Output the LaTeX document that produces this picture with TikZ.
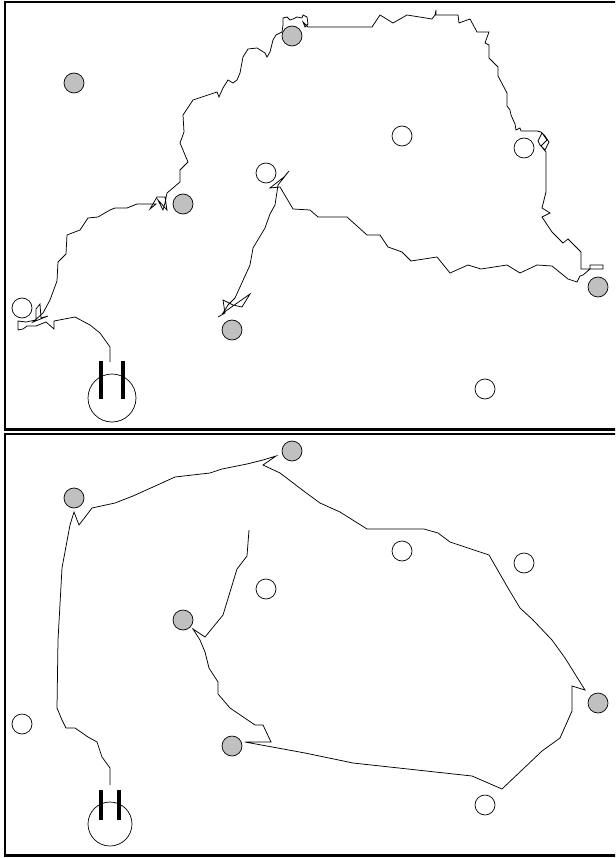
\documentclass[tikz,border=0pt]{standalone}
\begin{document}
\begin{tikzpicture}[x=1pt,y=-1pt,
  gcirc/.style={circle,draw=black,line width=0.7pt,fill={rgb,255:red,192;green,192;blue,192},minimum size=20pt,inner sep=0pt},
  wcirc/.style={circle,draw=black,line width=0.7pt,fill=white,minimum size=20pt,inner sep=0pt},
  frame/.style={draw=black,line width=2.3pt},
  traj/.style={draw=black,line width=0.75pt,line join=miter},
  bar/.style={fill=black}]
\clip (0,0) rectangle (615,858);
\fill[white] (0,0) rectangle (615,858);
% frames
\draw[frame] (5,1.8) rectangle (630,429.5);
\draw[frame] (5,434.2) rectangle (630,855.5);

% ---------------- top panel ----------------
\node[gcirc] (tg1) at (74,83) {};
\node[gcirc] (tg2) at (292,36) {};
\node[wcirc] (tw1) at (402,136) {};
\node[wcirc] (tw2) at (524,148) {};
\node[wcirc] (tw3) at (266,173) {};
\node[gcirc] (tg3) at (183,204) {};
\node[wcirc] (tw4) at (22,308) {};
\node[gcirc] (tg4) at (232,330) {};
\node[gcirc] (tg5) at (598,287) {};
\node[wcirc] (tw5) at (485,389) {};
\node[circle,draw=black,line width=0.7pt,minimum size=48pt,inner sep=0pt] (th) at (112,398) {};
\fill[bar] (99,361) rectangle (103.3,399);
\fill[bar] (120.7,361) rectangle (125,399);
\coordinate (tstart) at (110,362);

\draw[traj] (tstart) -- (110,347) -- (100,333) -- (90,325) -- (75,317) -- (54,321) -- (54,329)
 -- (46,322) -- (36,326) -- (27,326) -- (23,329) -- (18,330) -- (18,321) -- (26,322) -- (36,320)
 -- (36,309) -- (40,304) -- (41,318) -- (48,316) -- (33,322) -- (43,313) -- (50,300) -- (57,281)
 -- (58,262) -- (66,254) -- (67,235) -- (80,230) -- (88,218) -- (98,217) -- (110,210) -- (115,208)
 -- (127,208) -- (137,204) -- (150,204) -- (156,204) -- (150,209) -- (157,197) -- (165,197)
 -- (167,210) -- (158,200) -- (163,210) -- (165,203) -- (167,193) -- (180,182) -- (180,170)
 -- (188,162) -- (180,143) -- (184,132) -- (183,115) -- (193,100) -- (217,92) -- (219,97)
 -- (223,88) -- (228,80) -- (233,83) -- (237,80) -- (240,73) -- (243,57) -- (248,49) -- (257,48)
 -- (265,53) -- (267,57) -- (270,52) -- (273,40) -- (276,35) -- (282,32) -- (283,25) -- (283,18)
 -- (287,17) -- (290,20) -- (293,19) -- (297,17) -- (302,18) -- (303,15) -- (307,17) -- (308,24)
 -- (305,27) -- (303,22) -- (308,27) -- (372,27) -- (380,15) -- (393,23) -- (407,15) -- (432,19)
 -- (435,15) -- (436,10) -- (436,15) -- (458,15) -- (459,23) -- (470,19) -- (477,32) -- (489,32)
 -- (485,43) -- (489,45) -- (489,58) -- (498,67) -- (498,76) -- (507,93) -- (507,106) -- (510,110)
 -- (511,115) -- (515,124) -- (516,130) -- (520,128) -- (521,131) -- (537,131) -- (541,132)
 -- (545,136) -- (549,142) -- (545,150) -- (540,145) -- (538,141) -- (542,133) -- (547,140)
 -- (541,146) -- (546,152) -- (546,192) -- (542,208) -- (550,213) -- (542,217) -- (552,232)
 -- (563,243) -- (568,239) -- (581,252) -- (581,269) -- (590,269) -- (590,265) -- (603,265)
 -- (603,269) -- (590,269) -- (583,275) -- (580,276) -- (577,282) -- (568,279) -- (552,266)
 -- (537,265) -- (520,273) -- (507,265) -- (481,269) -- (468,265) -- (450,273) -- (437,257)
 -- (411,261) -- (402,252) -- (388,247) -- (380,235) -- (367,235) -- (347,217) -- (318,217)
 -- (310,210) -- (293,209) -- (280,187) -- (270,188) -- (284,177) -- (289,171) -- (278,185)
 -- (275,205) -- (270,214) -- (265,228) -- (253,248) -- (250,265) -- (235,298) -- (228,305)
 -- (223,313) -- (250,294) -- (242,307) -- (233,305) -- (223,300) -- (225,313) -- (218,317);

% ---------------- bottom panel ----------------
\node[gcirc] (bg1) at (74,498) {};
\node[gcirc] (bg2) at (292,451) {};
\node[wcirc] (bw1) at (402,551) {};
\node[wcirc] (bw2) at (524,563) {};
\node[wcirc] (bw3) at (266,589) {};
\node[gcirc] (bg3) at (183,620) {};
\node[wcirc] (bw4) at (22,724) {};
\node[gcirc] (bg4) at (232,746) {};
\node[gcirc] (bg5) at (598,703) {};
\node[wcirc] (bw5) at (485,805) {};
\node[circle,draw=black,line width=0.7pt,minimum size=44pt,inner sep=0pt] (bh) at (110,824) {};
\fill[bar] (99,790) rectangle (103.3,820);
\fill[bar] (116.7,790) rectangle (121,820);
\coordinate (bstart) at (110,785);

\draw[traj] (bstart) -- (110,768) -- (102,757) -- (97,742) -- (88,737) -- (75,728) -- (66,728)
 -- (62,720) -- (57,708) -- (58,640) -- (62,568) -- (70,525) -- (74,512) -- (79,525) -- (92,508)
 -- (115,503) -- (133,496) -- (153,487) -- (175,477) -- (210,473) -- (222,469) -- (247,464)
 -- (263,460) -- (276,456) -- (263,465) -- (280,473) -- (305,492) -- (320,503) -- (340,512)
 -- (367,529) -- (424,529) -- (438,533) -- (450,542) -- (489,555) -- (508,588) -- (520,608)
 -- (533,620) -- (552,640) -- (565,658) -- (585,690) -- (572,686) -- (572,711) -- (560,738)
 -- (542,751) -- (502,789) -- (472,776) -- (353,763) -- (305,753) -- (245,742) -- (271,742)
 -- (263,725) -- (255,725) -- (230,708) -- (218,694) -- (218,682) -- (209,668) -- (205,652)
 -- (200,640) -- (193,629) -- (205,637) -- (223,615) -- (237,569) -- (247,556) -- (249,530);
\end{tikzpicture}
\end{document}
